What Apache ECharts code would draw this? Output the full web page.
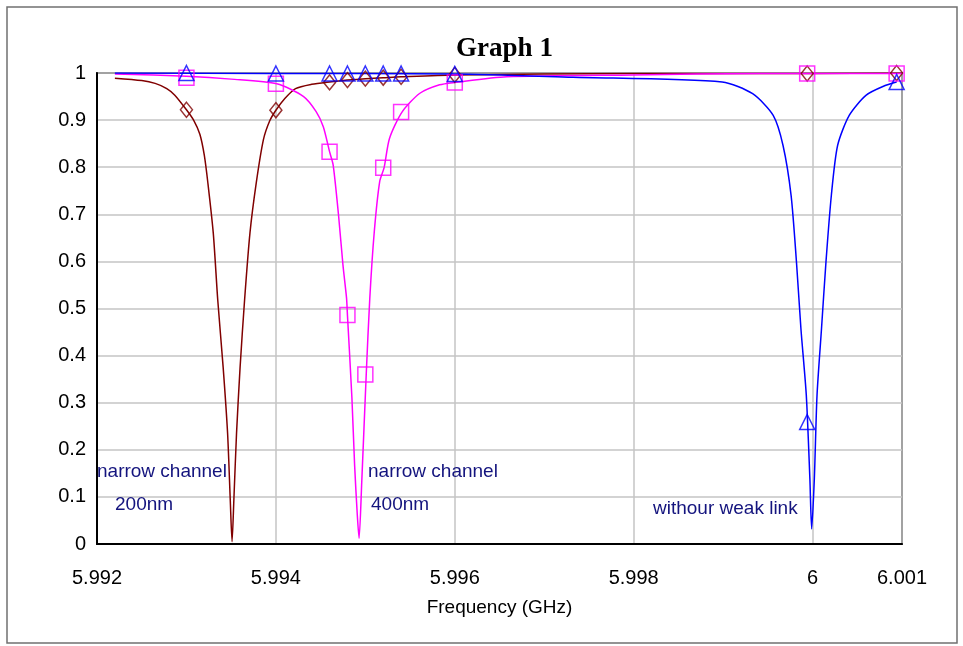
<!DOCTYPE html>
<html>
<head>
<meta charset="utf-8">
<script src="https://cdn.jsdelivr.net/npm/echarts@6/dist/echarts.min.js"></script>
<style>html,body{margin:0;padding:0;background:#fff;}#c{width:963px;height:646px;}</style>
</head>
<body>
<div id="c"></div>
<script>
// ---- data ----
var xTicks = [5.992, 5.994, 5.996, 5.998, 6.000, 6.001];
var yTicks = [0, 0.1, 0.2, 0.3, 0.4, 0.5, 0.6, 0.7, 0.8, 0.9, 1];

// narrow channel 200nm (brown)
var f200 = [5.9922, 5.9925, 5.99265, 5.99278, 5.99287, 5.9930, 5.99308, 5.99315, 5.9932, 5.99324, 5.9933, 5.99335, 5.99341, 5.99346, 5.99349, 5.99351,
            5.99353, 5.99356, 5.9936, 5.99365, 5.99371, 5.99378, 5.99386, 5.99393, 5.9940, 5.9941, 5.99422, 5.9944, 5.9946, 5.9948, 5.9950, 5.9952, 5.9954,
            5.9960, 5.9980, 6.0000, 6.0010];
var v200 = [0.989, 0.984, 0.978, 0.967, 0.953, 0.922, 0.900, 0.870, 0.825, 0.766, 0.660, 0.518, 0.376, 0.235, 0.093, 0.005,
            0.093, 0.235, 0.376, 0.518, 0.660, 0.766, 0.858, 0.898, 0.921, 0.946, 0.967, 0.976, 0.981, 0.985, 0.988, 0.990, 0.992,
            0.996, 0.999, 0.999, 1.000];
var m200f = [5.993, 5.994, 5.9946, 5.9948, 5.995, 5.9952, 5.9954, 5.996, 5.99994, 6.00094];
var m200v = [0.922, 0.921, 0.980, 0.985, 0.988, 0.990, 0.992, 0.996, 0.999, 1.000];

// narrow channel 400nm (magenta)
var f400 = [5.9922, 5.9930, 5.9935, 5.99401, 5.99431, 5.99445, 5.99453, 5.9946, 5.99464, 5.9947, 5.99475, 5.99479, 5.9948, 5.99485,
            5.99488, 5.99491, 5.99493, 5.99496, 5.99501, 5.99505, 5.9951, 5.99516, 5.99521, 5.99527, 5.99541, 5.99561,
            5.99583, 5.9960, 5.99658, 5.99799, 5.99941, 6.0010];
var v400 = [0.998, 0.993, 0.987, 0.977, 0.950, 0.918, 0.886, 0.833, 0.805, 0.699, 0.592, 0.522, 0.486, 0.310,
            0.168, 0.062, 0.012, 0.132, 0.360, 0.522, 0.663, 0.769, 0.799, 0.861, 0.917, 0.957,
            0.975, 0.980, 0.992, 0.996, 0.999, 0.999];
var m400f = [5.993, 5.994, 5.9946, 5.9948, 5.995, 5.9952, 5.9954, 5.996, 5.99994, 6.00094];
var m400v = [0.990, 0.977, 0.833, 0.486, 0.360, 0.799, 0.917, 0.980, 0.999, 0.999];

// without weak link (blue)
var fNo = [5.9922, 5.9940, 5.9960, 5.99732, 5.99899, 5.99933, 5.99956, 5.99967, 5.99976, 5.99982, 5.99987,
           5.99993, 5.99997, 5.99999, 6.00002, 6.00005, 6.0001, 6.00015, 6.00021, 6.00028, 6.00041, 6.0006, 6.00082, 6.00094];
var vNo = [1.000, 0.999, 0.998, 0.991, 0.981, 0.956, 0.910, 0.846, 0.740, 0.599, 0.457,
           0.316, 0.139, 0.032, 0.139, 0.316, 0.457, 0.599, 0.740, 0.846, 0.910, 0.953, 0.974, 0.981];
var mNof = [5.993, 5.994, 5.9946, 5.9948, 5.995, 5.9952, 5.9954, 5.996, 5.99994, 6.00094];
var mNov = [1.000, 0.999, 0.999, 0.999, 0.999, 0.999, 0.999, 0.998, 0.259, 0.981];

var annotations = [
  {text: 'narrow channel', x: 97, y: 473},
  {text: '200nm', x: 115, y: 506},
  {text: 'narrow channel', x: 368, y: 473},
  {text: '400nm', x: 371, y: 506},
  {text: 'withour weak link', x: 653, y: 510}
];

// ---- build ----
function zip(a, b) { return a.map(function (v, i) { return [v, b[i]]; }); }
var BROWN = '#800000', MAG = '#ff00ff', BLUE = '#0000ff';

function lineSeries(name, f, v, color, z) {
  return {name: name, type: 'line', data: zip(f, v), showSymbol: false, symbol: 'none',
          smooth: 0.25,
          lineStyle: {color: color, width: 1.5}, z: z, animation: false, clip: true};
}
function markSeries(name, f, v, color, symbol, size, z) {
  return {name: name, type: 'scatter', data: zip(f, v), symbol: symbol, symbolSize: size,
          itemStyle: {color: 'rgba(0,0,0,0)', borderColor: color, borderWidth: 1.5}, z: z, animation: false};
}

var chart = echarts.init(document.getElementById('c'), null, {renderer: 'canvas'});
chart.setOption({
  backgroundColor: '#fff',
  animation: false,
  title: {
    text: 'Graph 1', left: 499.5, top: 31, textAlign: 'center',
    textStyle: {fontFamily: 'Liberation Serif', fontWeight: 'bold', fontSize: 27, color: '#000'}
  },
  grid: {left: 97, right: 61, top: 73, bottom: 102, show: true, borderColor: '#000', borderWidth: 1.5, backgroundColor: 'transparent'},
  xAxis: {
    type: 'value', min: xTicks[0], max: xTicks[xTicks.length - 1], interval: 0.002,
    name: 'Frequency (GHz)', nameLocation: 'middle', nameGap: 54,
    nameTextStyle: {fontFamily: 'Liberation Sans', fontSize: 19, color: '#000'},
    axisLine: {show: true, onZero: false, lineStyle: {color: '#000', width: 2}},
    axisTick: {show: false},
    axisLabel: {margin: 24, fontFamily: 'Liberation Sans', fontSize: 20, color: '#000',
      formatter: function (v) { return String(+v.toFixed(3)); }, showMaxLabel: true, showMinLabel: true},
    splitLine: {show: true, lineStyle: {color: '#c4c4c4', width: 1.5}}
  },
  yAxis: {
    type: 'value', min: yTicks[0], max: yTicks[yTicks.length - 1], interval: 0.1,
    axisLine: {show: true, lineStyle: {color: '#000', width: 2}},
    axisTick: {show: false},
    axisLabel: {margin: 11, fontFamily: 'Liberation Sans', fontSize: 20, color: '#000',
      formatter: function (v) { return String(+v.toFixed(1)); }},
    splitLine: {show: true, lineStyle: {color: '#c4c4c4', width: 1.5}}
  },
  series: [
    lineSeries('200nm', f200, v200, BROWN, 3),
    lineSeries('400nm', f400, v400, MAG, 4),
    lineSeries('no weak link', fNo, vNo, BLUE, 5),
    markSeries('200nm markers', m200f, m200v, BROWN, 'diamond', [12, 15], 6),
    markSeries('400nm markers', m400f, m400v, MAG, 'rect', 15, 7),
    markSeries('no weak link markers', mNof, mNov, BLUE, 'triangle', 15, 8)
  ],
  graphic: [
    {type: 'rect', shape: {x: 7, y: 7, width: 950, height: 636}, style: {fill: 'none', stroke: '#707070', lineWidth: 1.5}, z: 0, silent: true}
  ].concat(annotations.map(function (a) {
    return {type: 'text', left: a.x, top: a.y - 11, z: 10, silent: true,
      style: {text: a.text, fill: '#14147e', fontFamily: 'Liberation Sans', fontSize: 19}};
  }))
});
</script>
</body>
</html>
